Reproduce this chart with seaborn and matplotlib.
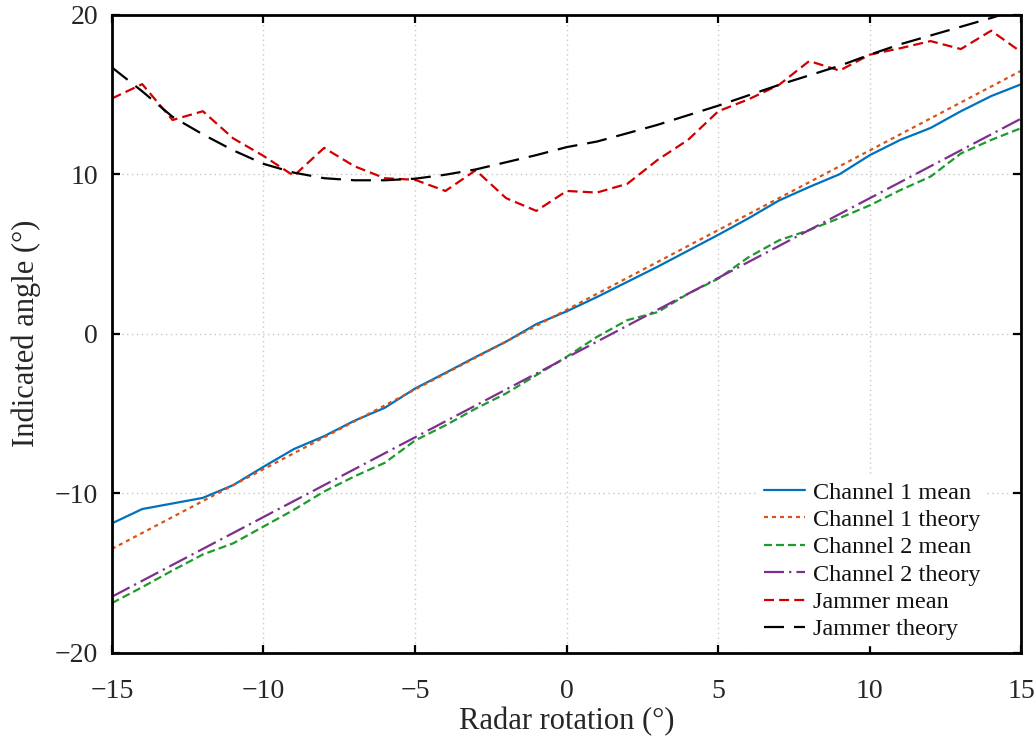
import matplotlib
matplotlib.use("Agg")
import matplotlib.pyplot as plt
import seaborn as sns
import pandas as pd

# Radar rotation angles (degrees)
rotation = list(range(-15, 16))

ch1_mean = [-11.9, -11.0, -10.65, -10.3, -9.5, -8.35, -7.24, -6.43, -5.46, -4.65,
            -3.44, -2.46, -1.46, -0.5, 0.6, 1.4, 2.3, 3.25, 4.2, 5.2,
            6.2, 7.24, 8.35, 9.2, 10.0, 11.2, 12.15, 12.9, 13.95, 14.9, 15.65]
ch1_theory = [-13.5, -12.5, -11.5, -10.5, -9.5, -8.5, -7.5, -6.5, -5.5, -4.5,
              -3.5, -2.5, -1.5, -0.5, 0.5, 1.5, 2.5, 3.5, 4.5, 5.5,
              6.5, 7.5, 8.5, 9.5, 10.5, 11.5, 12.5, 13.5, 14.5, 15.5, 16.5]
ch2_mean = [-16.9, -15.9, -14.85, -13.85, -13.15, -12.1, -11.05, -9.9, -8.95, -8.1,
            -6.7, -5.75, -4.7, -3.75, -2.6, -1.45, -0.2, 0.85, 1.35, 2.5,
            3.45, 4.8, 5.85, 6.5, 7.25, 8.05, 9.0, 9.85, 11.3, 12.15, 12.9]
ch2_theory = [-16.5, -15.5, -14.5, -13.5, -12.5, -11.5, -10.5, -9.5, -8.5, -7.5,
              -6.5, -5.5, -4.5, -3.5, -2.5, -1.5, -0.5, 0.5, 1.5, 2.5,
              3.5, 4.5, 5.5, 6.5, 7.5, 8.5, 9.5, 10.5, 11.5, 12.5, 13.5]
jam_mean = [14.75, 15.65, 13.4, 13.95, 12.25, 11.15, 9.9, 11.65, 10.5, 9.75,
            9.65, 8.95, 10.25, 8.5, 7.7, 8.95, 8.85, 9.4, 10.9, 12.15,
            13.95, 14.7, 15.6, 17.1, 16.5, 17.5, 17.9, 18.35, 17.85, 19.0, 17.65]
jam_theory = [16.7, 15.2, 13.6, 12.5, 11.5, 10.65, 10.1, 9.75, 9.62, 9.62,
              9.72, 9.97, 10.3, 10.75, 11.2, 11.7, 12.05, 12.57, 13.1, 13.7,
              14.3, 14.95, 15.6, 16.2, 16.8, 17.5, 18.15, 18.7, 19.25, 19.8, 20.4]

series_names = ["Channel 1 mean", "Channel 1 theory", "Channel 2 mean",
                "Channel 2 theory", "Jammer mean", "Jammer theory"]
series_values = [ch1_mean, ch1_theory, ch2_mean, ch2_theory, jam_mean, jam_theory]

colors = ["#0072BD", "#D95319", "#1E9A2E", "#7E2F8E", "#D00000", "#000000"]
dashes = [None, (1.8, 1.8), (3.6, 1.8), (9, 2.3, 1, 2.3), (4.5, 2.3), (9, 4.5)]

frame = pd.DataFrame({
    "rotation": rotation * len(series_names),
    "angle": [v for vals in series_values for v in vals],
    "series": [n for n in series_names for _ in rotation],
})

sns.set_theme(style="white")
plt.rcParams["font.family"] = ["Liberation Serif", "DejaVu Serif"]

fig = plt.figure(figsize=(10.36, 7.39), dpi=100)
ax = fig.add_axes([0.108, 0.117, 0.878, 0.863])

for name, col, dsh in zip(series_names, colors, dashes):
    sub = frame[frame["series"] == name]
    sns.lineplot(data=sub, x="rotation", y="angle", ax=ax, color=col,
                 linewidth=1.6, label=name, estimator=None, sort=False)
    ln = ax.get_lines()[-1]
    if dsh is not None:
        ln.set_dashes(dsh)
    ln.set_dash_capstyle("butt")

ax.set_xlim(-15, 15)
ax.set_ylim(-20, 20)
ax.set_xticks([-15, -10, -5, 0, 5, 10, 15])
ax.set_yticks([-20, -10, 0, 10, 20])
ax.grid(True, color="#c8c8c8", linestyle=(0, (1, 2.5)), linewidth=1.0)
ax.set_axisbelow(True)

for sp in ax.spines.values():
    sp.set_color("black")
    sp.set_linewidth(2.0)

ax.tick_params(direction="in", length=6, width=1.6, colors="black",
               top=True, right=True, bottom=True, left=True,
               labelsize=20, labelcolor="#262626")
ax.tick_params(axis="x", pad=19)
ax.tick_params(axis="y", pad=10)

ax.set_xlabel("Radar rotation (°)", fontsize=22, color="#262626", labelpad=2)
ax.set_ylabel("Indicated angle (°)", fontsize=22, color="#262626", labelpad=10)

leg = ax.legend(loc="lower right", frameon=True, fontsize=17.5,
                handlelength=1.7, handletextpad=0.3, labelspacing=0.22,
                borderaxespad=0.3, borderpad=0.2, bbox_to_anchor=(0.968, 0.0))
leg.get_frame().set_edgecolor("white")
leg.get_frame().set_facecolor("white")
leg.get_frame().set_alpha(1.0)
leg.get_frame().set_boxstyle("square", pad=0)
for t in leg.get_texts():
    t.set_color("#111111")

fig.savefig("out.png", dpi=100)
